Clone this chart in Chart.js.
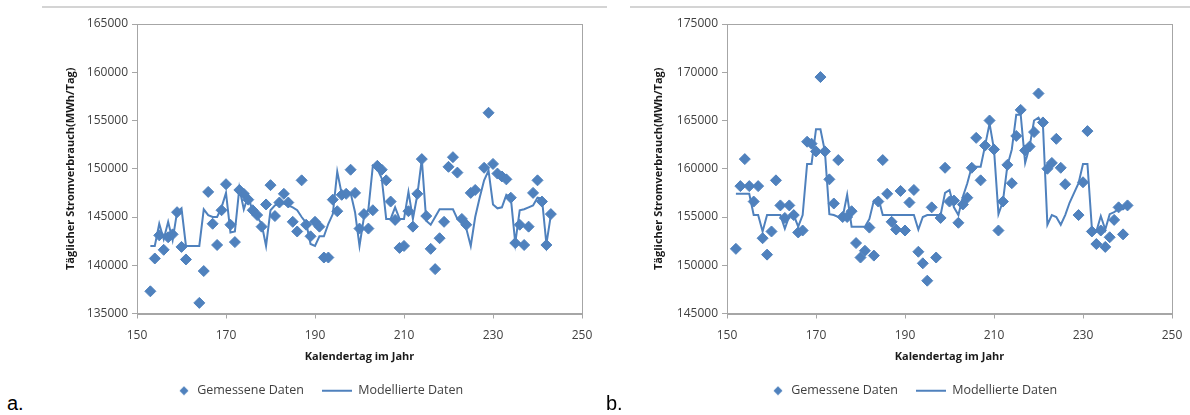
<!DOCTYPE html>
<html>
<head>
<meta charset="utf-8">
<script src="https://cdn.jsdelivr.net/npm/chart.js@4/dist/chart.umd.min.js"></script>
<style>
	html, body { margin:0; padding:0; background:#fff; width:1190px; height:415px; overflow:hidden; position:relative; }
	.rule { position:absolute; top:6px; height:2px; background:#d4d4d4; }
	.panel { position:absolute; top:0; height:430px; }
	.tag { position:absolute; font:20px "Liberation Sans", Arial, sans-serif; line-height:23px; color:#000; }
</style>
</head>
<body>
<div class="rule" style="left:42px;width:565px"></div>
<div class="rule" style="left:630px;width:560px"></div>
<div class="panel" style="left:42px;width:638px"><canvas id="chart-a"></canvas></div>
<div class="panel" style="left:640px;width:610px"><canvas id="chart-b"></canvas></div>
<div class="tag" style="left:7px;top:392px">a.</div>
<div class="tag" style="left:606px;top:392px">b.</div>
<script>
// a. measured daily consumption (MWh/day) by calendar day
const daysA = [153,154,155,156,157,158,159,160,161,164,165,166,167,168,169,170,171,172,173,174,175,176,177,178,179,180,181,182,183,184,185,186,187,188,189,190,191,192,193,194,195,196,197,198,199,200,201,202,203,204,205,206,207,208,209,210,211,212,213,214,215,216,217,218,219,220,221,222,223,224,225,226,228,229,230,231,232,233,234,235,236,237,238,239,240,241,242,243];
const measuredA = [137300,140700,143100,141600,142900,143200,145500,141900,140600,136100,139400,147600,144300,142100,145700,148400,144200,142400,147800,147400,146800,145700,145200,144000,146300,148300,145100,146500,147400,146500,144500,143500,148800,144200,143000,144500,144000,140800,140800,146800,145600,147300,147400,149900,147500,143800,145300,143800,145700,150300,149900,148800,146600,144700,141800,142000,145600,144000,147400,151000,145100,141700,139600,142800,144500,150200,151200,149600,144800,144200,147500,147800,150100,155800,150500,149500,149200,148900,147000,142300,144200,142100,144000,147500,148800,146600,142100,145300];
// a. modelled consumption
const modelDaysA = [153,154,155,156,157,158,159,160,161,162,163,164,165,166,167,168,169,170,171,172,173,174,175,176,177,178,179,180,181,182,183,184,185,186,187,188,189,190,191,192,193,194,195,196,197,198,199,200,201,202,203,204,205,206,207,208,209,210,211,212,213,214,215,216,217,218,219,220,221,222,223,224,225,226,227,228,229,230,231,232,233,234,235,236,237,238,239,240,241,242,243];
const modelA = [142000,142000,144300,142700,144500,142600,145500,145900,142000,142000,142000,142000,145800,145200,145000,145000,146000,147500,143400,143500,148000,145800,147200,145500,145000,144300,142000,145700,146200,146400,146400,146200,146000,145700,145000,144400,142200,142000,143000,143000,144300,145300,149700,147400,147500,147500,145500,142000,145000,145800,150300,150000,149000,144800,144800,146000,144800,144800,147600,144800,147300,151000,144600,144200,145000,145800,145800,145800,145800,144800,144400,143800,142000,145000,147000,148800,149800,146300,145900,146000,147300,147000,142300,145700,145800,146000,146200,147000,146900,142200,145200];

// b. measured
const daysB = [152,153,154,155,156,157,158,159,160,161,162,163,164,165,166,167,168,169,170,171,172,173,174,175,176,177,178,179,180,181,182,183,184,185,186,187,188,189,190,191,192,193,194,195,196,197,198,199,200,201,202,203,204,205,206,207,208,209,210,211,212,213,214,215,216,217,218,219,220,221,222,223,224,225,226,229,230,231,232,233,234,235,236,237,238,239,240];
const measuredB = [151700,158200,161000,158200,156600,158200,152800,151100,153500,158800,156200,154900,156200,155200,153400,153600,162800,162600,161800,169500,161800,158900,156400,160900,155000,155000,155600,152300,150800,151500,153900,151000,156600,160900,157400,154500,153700,157700,153600,156500,157800,151400,150200,148400,156000,150800,154900,160100,156600,156700,154400,156300,157000,160100,163200,158800,162400,165000,162000,153600,156600,160400,158500,163400,166100,161900,162300,163800,167800,164800,160000,160600,163100,160100,158400,155200,158600,163900,153500,152200,153600,151900,152900,154700,156000,153200,156200];
// b. modelled
const modelDaysB = [152,153,154,155,156,157,158,159,160,161,162,163,164,165,166,167,168,169,170,171,172,173,174,175,176,177,178,179,180,181,182,183,184,185,186,187,188,189,190,191,192,193,194,195,196,197,198,199,200,201,202,203,204,205,206,207,208,209,210,211,212,213,214,215,216,217,218,219,220,221,222,223,224,225,226,227,228,229,230,231,232,233,234,235,236,237,238,239,240];
const modelB = [157400,157400,157400,157400,155200,155200,153500,155200,155200,155200,155200,153800,155100,155200,154000,155200,160500,160500,164100,164100,161800,155300,155200,155000,155000,157300,154000,154000,154000,154000,154800,156700,157000,155200,155200,155200,155200,155200,155200,155200,155200,153700,155000,155200,155200,155200,155200,157500,157800,156000,155200,157100,158500,160200,160200,160200,162400,164700,162000,155300,156600,160300,162000,165600,165600,160600,162300,165000,165300,164500,154200,155200,155000,154200,155200,156500,157500,158500,160500,160500,153800,153500,155100,153700,155300,155500,155800,155800,156200];

const xTicks = [150, 250, 20];      // min, max, step
const yTicksA = [135000, 165000, 5000];
const yTicksB = [145000, 175000, 5000];

const legendMeasured = 'Gemessene Daten';
const legendModel = 'Modellierte Daten';
const xTitle = 'Kalendertag im Jahr';
const yTitle = 'Täglicher Stromverbrauch(MWh/Tag)';

const blue = '#4f81bd';
const axisGrey = '#a6a6a6';
const font = 'Open Sans';

const pairs = (xs, ys) => xs.map((x, i) => ({ x, y: ys[i] }));

// small legend glyphs: diamond sits at the right of its box, line fills it
const glyph = (draw) => {
	const c = document.createElement('canvas');
	c.width = 30; c.height = 10;
	draw(c.getContext('2d'));
	return c;
};
const diamondGlyph = glyph((g) => {
	g.fillStyle = blue;
	g.beginPath(); g.moveTo(23, 0.5); g.lineTo(27.5, 5); g.lineTo(23, 9.5); g.lineTo(18.5, 5); g.closePath(); g.fill();
});
const lineGlyph = glyph((g) => { g.fillStyle = blue; g.fillRect(0, 4, 30, 2); });

// grey frame round the plot area, like the spreadsheet chart
const plotFrame = {
	id: 'plotFrame',
	beforeDatasetsDraw(chart) {
		const { ctx, chartArea: a } = chart;
		ctx.save();
		ctx.strokeStyle = axisGrey;
		ctx.lineWidth = 1;
		ctx.strokeRect(Math.round(a.left) + 0.5, Math.round(a.top) + 0.5, Math.round(a.right - a.left), Math.round(a.bottom - a.top));
		ctx.restore();
	}
};

const makeChart = (id, cfg) => new Chart(document.getElementById(id), {
	data: {
		datasets: [
			{ type:'scatter', label: legendMeasured, data: pairs(cfg.days, cfg.measured), pointStyle:'rectRot', pointRadius:5.5, pointHoverRadius:5.5,
				backgroundColor: blue, borderColor: blue, borderWidth:1, order:2 },
			{ type:'line', label: legendModel, data: pairs(cfg.modelDays, cfg.model), borderColor: blue, backgroundColor: blue,
				borderWidth:2, pointRadius:0, tension:0, fill:false, order:1 }
		]
	},
	options: {
		responsive:true, maintainAspectRatio:false, animation:false,
		layout: { padding: { top:24, right: cfg.padRight, bottom:23, left:0 } },
		plugins: {
			tooltip: { enabled:false },
			legend: {
				position:'bottom',
				labels: {
					usePointStyle:true, pointStyleWidth:30, padding:18, color:'#404040', font:{ family:font, size:12.5 },
					sort: (a, b) => a.datasetIndex - b.datasetIndex,
					generateLabels: (chart) => Chart.defaults.plugins.legend.labels.generateLabels(chart)
						.map((l) => Object.assign(l, { pointStyle: l.datasetIndex === 0 ? diamondGlyph : lineGlyph }))
				}
			}
		},
		scales: {
			x: {
				type:'linear', min: xTicks[0], max: xTicks[1],
				ticks: { stepSize: xTicks[2], color:'#404040', padding:10, font:{ family:font, size:12 } },
				grid: { drawOnChartArea:false, tickLength:5, color: axisGrey },
				border: { color: axisGrey },
				title: { display:true, text: xTitle, color:'#1a1a1a', padding:{ top:0, bottom:3 }, font:{ family:font, size:11, weight:'bold' } },
				afterFit: (s) => { s.height = 53; }
			},
			y: {
				min: cfg.yTicks[0], max: cfg.yTicks[1],
				ticks: { stepSize: cfg.yTicks[2], color:'#404040', padding:4, font:{ family:font, size:12 }, callback: (v) => String(v) },
				grid: { drawOnChartArea:false, tickLength:5, color: axisGrey },
				border: { color: axisGrey },
				title: { display:true, text: yTitle, color:'#1a1a1a', padding:{ top: cfg.titlePad, bottom:0 }, font:{ family:font, size:11, weight:'bold' } },
				afterFit: (s) => { s.width = cfg.yWidth; }
			}
		}
	},
	plugins: [plotFrame]
});

makeChart('chart-a', { days: daysA, measured: measuredA, modelDays: modelDaysA, model: modelA, yTicks: yTicksA, yWidth:95, titlePad:22, padRight:98 });
makeChart('chart-b', { days: daysB, measured: measuredB, modelDays: modelDaysB, model: modelB, yTicks: yTicksB, yWidth:87, titlePad:12, padRight:78 });
</script>
</body>
</html>
